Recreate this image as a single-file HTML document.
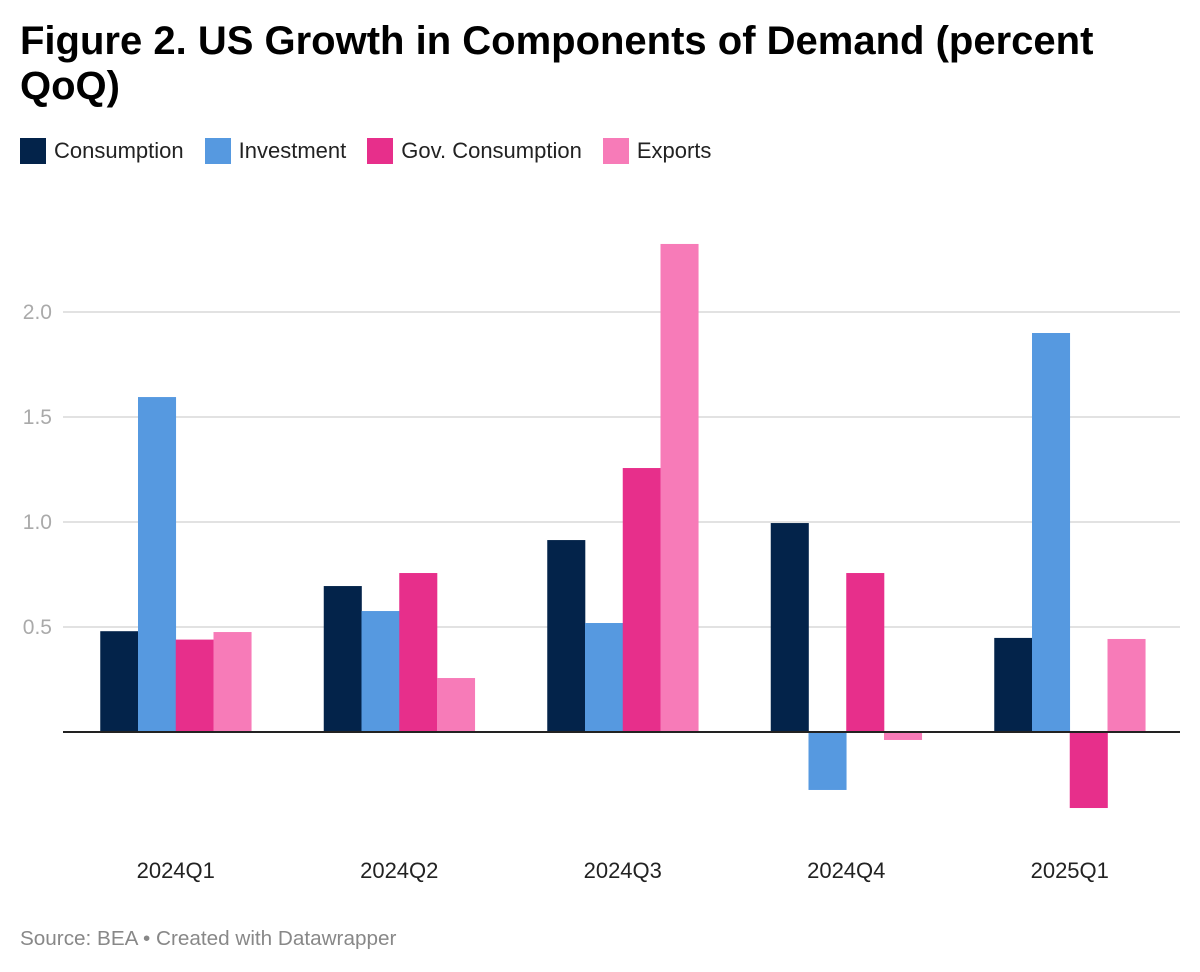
<!DOCTYPE html>
<html><head><meta charset="utf-8"><style>
body{margin:0;background:#fff;font-family:"Liberation Sans",sans-serif;width:1200px;height:972px;overflow:hidden;position:relative}
h1{position:absolute;left:20px;top:19px;margin:0;font-size:40px;line-height:45px;font-weight:bold;color:#000;width:1100px}
.legend{position:absolute;left:20px;top:138px;display:flex;font-size:22px;color:#222}
.li{display:flex;align-items:center;margin-right:21px}
.sw{width:26px;height:26px;margin-right:8px}
.src{position:absolute;left:20px;top:927px;font-size:20.7px;color:#888}
</style></head><body>
<h1>Figure 2. US Growth in Components of Demand (percent QoQ)</h1>
<div class="legend">
<div class="li"><div class="sw" style="background:#03234a"></div>Consumption</div>
<div class="li"><div class="sw" style="background:#5699e0"></div>Investment</div>
<div class="li"><div class="sw" style="background:#e72f8b"></div>Gov. Consumption</div>
<div class="li"><div class="sw" style="background:#f77bb8"></div>Exports</div>
</div>
<svg id="chart" width="1200" height="972" style="position:absolute;left:0;top:0"></svg>
<div class="src">Source: BEA • Created with Datawrapper</div>
<script>
const categories=["2024Q1","2024Q2","2024Q3","2024Q4","2025Q1"];
const consumption=[0.48,0.695,0.914,0.995,0.448];
const investment=[1.595,0.576,0.519,-0.276,1.9];
const govConsumption=[0.44,0.757,1.257,0.757,-0.362];
const exports=[0.476,0.257,2.324,-0.038,0.443];
const ticks=[0.5,1.0,1.5,2.0];
const tickLabels=["0.5","1.0","1.5","2.0"];
const series=[["consumption",consumption,"#03234a"],["investment",investment,"#5699e0"],["gov-consumption",govConsumption,"#e72f8b"],["exports",exports,"#f77bb8"]];
const NS="http://www.w3.org/2000/svg",svg=document.getElementById("chart");
const y=v=>732-v*210;
const x0=64,band=223.5,bw=37.75;
const cx=i=>x0+band*i+band/2;
function mk(t,a){const e=document.createElementNS(NS,t);for(const k in a)e.setAttribute(k,a[k]);svg.appendChild(e);return e;}
ticks.forEach((t,i)=>{
 const g=mk("line",{x1:63,x2:1180,y1:y(t),y2:y(t),stroke:"#e2e2e2","stroke-width":2});
 
 
 const l=mk("text",{x:52,y:y(t)+7,"text-anchor":"end","font-size":21,fill:"#aaa","font-family":"Liberation Sans"});
 l.textContent=tickLabels[i];
 
 
});
categories.forEach((c,i)=>{
 series.forEach((s,j)=>{
  const v=s[1][i],bx=cx(i)-2*bw+j*bw;
  const r=mk("rect",{x:bx,y:Math.min(y(v),y(0)),width:bw+0.3,height:Math.abs(y(v)-y(0)),fill:s[2]});
  
  
 });
 const t=mk("text",{x:cx(i),y:878,"text-anchor":"middle","font-size":22,fill:"#222","font-family":"Liberation Sans"});
 t.textContent=c;
 
 
});
const z=mk("line",{x1:63,x2:1180,y1:y(0),y2:y(0),stroke:"#222","stroke-width":2});


</script>
</body></html>
